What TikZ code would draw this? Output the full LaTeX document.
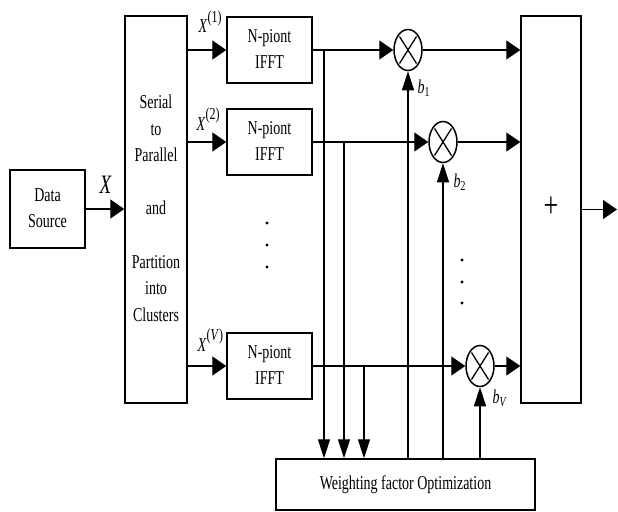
\documentclass[tikz,border=0pt]{standalone}
\usepackage{fontspec}
\setmainfont{Liberation Serif}
\usepackage{graphicx}
\usetikzlibrary{arrows.meta,shapes.geometric}

\newcommand{\tall}[1]{\scalebox{1}[1.4]{#1}}
\newcommand{\tallbox}[1]{\scalebox{1}[1.4]{\begin{tabular}{@{}c@{}}#1\end{tabular}}}
\newcommand{\sups}[1]{\raisebox{7.5pt}{\fontsize{12}{14}\selectfont #1}}

\tikzset{
  blk/.style={draw, line width=1.4pt, inner sep=0pt, font=\fontsize{14}{19}\selectfont},
  mult/.style={draw, ellipse, line width=1.5pt, minimum width=28pt, minimum height=41pt, inner sep=0pt,
    path picture={\draw[line width=1.3pt]
      ([shift={(-8.5pt,-13.5pt)}]path picture bounding box.center) -- ([shift={(8.5pt,13.5pt)}]path picture bounding box.center)
      ([shift={(-8.5pt,13.5pt)}]path picture bounding box.center) -- ([shift={(8.5pt,-13.5pt)}]path picture bounding box.center);}},
  lbl/.style={inner sep=0pt, anchor=base west, font=\fontsize{14}{19}\selectfont},
  harrow/.style={-{Triangle[length=14pt,width=19pt]}},
  varrow/.style={-{Triangle[length=19pt,width=12pt]}},
}

\begin{document}
\begin{tikzpicture}[x=1pt, y=-1pt, line width=1.3pt]
        \useasboundingbox (0,0) rectangle (618,511);

        % blocks
        \node[blk, minimum width=75pt, minimum height=78pt] (ds) at (47.5,209) {\tallbox{Data\\Source}};
        \node[blk, minimum width=62pt, minimum height=387pt] (sp) at (156,209.5) {\tallbox{Serial\\to\\Parallel\\ \\and\\ \\Partition\\into\\Clusters}};
        \node[blk, minimum width=85pt, minimum height=66pt] (f1) at (269.5,50) {\tallbox{N-piont\\IFFT}};
        \node[blk, minimum width=85pt, minimum height=66pt] (f2) at (269.5,142) {\tallbox{N-piont\\IFFT}};
        \node[blk, minimum width=85pt, minimum height=66pt] (fv) at (269.5,366) {\tallbox{N-piont\\IFFT}};
        \node[blk, minimum width=60pt, minimum height=387pt] (sum) at (551,209.5) {\fontsize{26}{30}\selectfont\tallbox{+}};
        \node[blk, minimum width=259pt, minimum height=51pt] (wopt) at (405.5,484.5) {\tallbox{Weighting factor Optimization}};

        \node[mult] (m1) at (408,50) {};
        \node[mult] (m2) at (443,142) {};
        \node[mult] (mv) at (480,366) {};

        % labels
        \node[lbl, font=\fontsize{19}{22}\selectfont] (lx) at (99,193) {\tall{\textit{X}}};
        \node[lbl] (lx1) at (198,33) {\tall{\textit{X}\sups{(1)}}};
        \node[lbl] (lx2) at (196,130) {\tall{\textit{X}\sups{(2)}}};
        \node[lbl] (lxv) at (197,351) {\tall{\textit{X}\sups{(\textit{V})}}};
        \node[lbl] (lb1) at (417,93) {\tall{\textit{b}\textsubscript{1}}};
        \node[lbl] (lb2) at (453,187) {\tall{\textit{b}\textsubscript{2}}};
        \node[lbl] (lbv) at (492,403) {\tall{\textit{b}\textsubscript{\textit{V}}}};

        \foreach \y in {223,245,267} \fill (267,\y) circle[radius=1.7pt];
        \foreach \y in {260,282,303} \fill (462,\y) circle[radius=1.7pt];

        \coordinate (t1) at (324,50);
        \coordinate (t2) at (344,142);
        \coordinate (tv) at (364,366);
        \coordinate (out) at (617,209.5);

        \begin{scope}[harrow]
        \draw (ds.east) -- (ds.east -| sp.west);
        \draw (sp.east |- f1.west) -- (f1.west);
        \draw (sp.east |- f2.west) -- (f2.west);
        \draw (sp.east |- fv.west) -- (fv.west);
        \draw (f1.east) -- (m1.west);
        \draw (f2.east) -- (m2.west);
        \draw (fv.east) -- (mv.west);
        \draw (m1.east) -- (m1.east -| sum.west);
        \draw (m2.east) -- (m2.east -| sum.west);
        \draw (mv.east) -- (mv.east -| sum.west);
        \draw (sum.east) -- (out);
        \end{scope}

        \begin{scope}[varrow]
        \draw (t1) -- (t1 |- wopt.north);
        \draw (t2) -- (t2 |- wopt.north);
        \draw (tv) -- (tv |- wopt.north);
        \draw (m1 |- wopt.north) -- (m1.south);
        \draw (m2 |- wopt.north) -- (m2.south);
        \draw (mv |- wopt.north) -- (mv.south);
        \end{scope}

\end{tikzpicture}
\end{document}
